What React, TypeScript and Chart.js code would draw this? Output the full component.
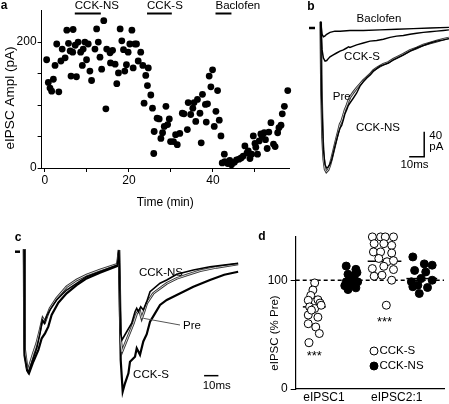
import { useEffect, useRef } from 'react';
import { Chart, registerables } from 'chart.js';

Chart.register(...registerables);

const FONT = '"Liberation Sans", Arial, Helvetica, sans-serif';

// ---------------- Panel a : eIPSC amplitude over time ----------------
const timeMin = [
  0.4, 0.8, 1.2, 1.6, 2.0, 2.4, 2.8, 3.3, 3.8, 4.1, 4.8, 5.2, 5.6, 6.0, 6.2, 6.7, 6.6, 7.5, 7.2, 7.9,
  8.5, 8.9, 9.1, 9.5, 9.9, 10.3, 10.7, 11.1, 11.9, 12.3, 12.7, 13.1, 13.5, 14.0, 14.5, 14.7, 15.5, 15.6, 16.1, 16.7,
  17.1, 17.5, 17.9, 18.3, 18.7, 19.0, 19.4, 19.8, 20.2, 20.7, 21.0, 21.4, 21.8, 22.2, 22.8, 23.3, 23.6, 24.0, 24.6, 24.4,
  25.2, 25.6, 26.0, 25.9, 26.7, 27.2, 27.6, 28.0, 28.4, 28.8, 29.2, 29.6, 29.9, 30.6, 31.1, 31.5, 32.1, 32.7, 33.1, 33.9,
  34.1, 34.7, 35.2, 35.5, 35.9, 36.3, 36.9, 37.2, 37.5, 38.2, 38.7, 38.4, 39.1, 39.5, 39.9, 40.3, 40.7, 41.1, 41.5, 41.9,
  42.2, 42.7, 42.8, 43.5, 44.0, 44.4, 45.1, 45.6, 46.2, 46.7, 47.2, 47.6, 48.1, 48.4, 48.8, 49.2, 49.6, 50.0, 50.2, 50.6,
  51.0, 51.4, 51.7, 52.2, 52.5, 52.9, 53.3, 53.8, 54.4, 54.8, 55.4, 55.7, 56.2, 56.5, 57.0, 57.8,
];
const amplPA = [
  172, 136, 127, 122, 141, 163, 197, 121, 170, 189, 175, 219, 198, 186, 146, 220, 184, 145, 195, 200,
  184, 163, 189, 200, 172, 197, 154, 139, 189, 221, 200, 176, 157, 234, 94, 189, 183, 167, 187, 165,
  134, 151, 221, 202, 188, 154, 164, 184, 197, 219, 159, 197, 197, 170, 184, 163, 103, 147, 159, 131,
  116, 95, 58, 23, 79, 78, 47, 56, 66, 98, 69, 78, 42, 42, 53, 37, 55, 87, 86, 61,
  104, 85, 95, 104, 74, 109, 87, 40, 117, 101, 102, 73, 146, 129, 156, 66, 90, 123, 76, 51,
  8, 22, 10, 7, 12, 5, 9, 13, 14, 16, 19, 35, 24, 27, 15, 22, 51, 39, 33, 22,
  43, 54, 50, 56, 45, 31, 57, 72, 38, 34, 56, 64, 68, 86, 98, 123,
];
const drugLabels = ['CCK-NS', 'CCK-S', 'Baclofen'];
const drugStartMin = [7.1, 24.3, 40.6];
const drugEndMin = [13.3, 30.2, 44.4];
const aXTicks = [0, 10, 20, 30, 40, 50];
const aXTickLabels = ['0', '', '20', '', '40', ''];
const aYTicks = [0, 50, 100, 150, 200];
const aYTickLabels = ['0', '', '', '', '200'];

// ---------------- Panel b : example traces (ms, pA) ----------------
const bArtifact = [[-7.8, 0], [-3.8, 0]];
const bPre = [
  [0, 10], [0.5, -100], [1.2, -175], [2, -210], [2.9, -226], [3.8, -230], [5, -227], [6.2, -219], [7.3, -209],
  [8.4, -198], [9.5, -187], [10.6, -176], [11.8, -165], [12.9, -154], [14, -149], [15.1, -140], [16.2, -131],
  [17.3, -125], [18.4, -117], [19.5, -111], [21.8, -103], [24, -96], [26.2, -90], [28.4, -84], [30.6, -79],
  [32.9, -74], [35.1, -68], [37.3, -64], [39.5, -61], [41.8, -58], [45.1, -55], [48.4, -50], [51.8, -46],
  [55.1, -42], [59.5, -36], [64, -32], [68.4, -27], [72.9, -24], [77.3, -21], [81.8, -18], [85.5, -16],
];
const bCckNs = [
  [0, 10], [0.6, -110], [1.8, -195], [2.9, -219], [4, -224], [5.1, -222], [6.2, -218], [7.3, -211], [8.4, -200],
  [9.5, -189], [10.6, -179], [11.8, -168], [12.9, -160], [14, -156], [15.1, -147], [16.2, -137], [17.3, -131],
  [18.4, -124], [19.5, -120], [21.8, -112], [24, -104], [26.2, -93], [28.4, -86], [30.6, -80], [32.9, -75],
  [35.1, -69], [37.3, -65], [39.5, -61], [41.8, -59], [45.1, -56], [48.4, -51], [51.8, -47], [55.1, -43],
  [59.5, -37], [64, -32], [68.4, -28], [72.9, -24], [77.3, -21], [81.8, -19], [85.5, -17],
];
const bCckS = [
  [0, 10], [0.9, -35], [1.8, -48], [2.9, -53], [4, -52], [5.1, -49], [6.2, -46], [8.4, -43], [10.6, -40],
  [12.9, -37], [15.1, -35], [17.3, -32], [18.5, -30], [19.5, -31], [21.8, -29], [24, -27], [28.4, -24],
  [32.9, -21], [37.3, -20], [41.8, -18], [46.2, -15], [50.6, -13], [55.1, -12], [59.5, -10], [64, -8.5],
  [68.4, -7], [72.9, -6], [77.3, -5], [81.8, -4], [85.5, -3],
];
const bBaclofen = [
  [0, 10], [0.9, -10], [1.8, -14], [2.7, -13], [4, -10], [6.2, -7], [9.5, -5], [12.9, -5], [19.5, -4],
  [28.4, -4], [39.5, -3], [50.6, -2], [61.7, -1], [72.9, 0], [85.5, 1],
];
const bScaleBar = [[59, -206], [69, -206], [69, -166]]; // 10 ms, 40 pA

// ---------------- Panel c : paired-pulse traces (ms, % of first peak) ----------------
const cArtifact = [[-6.3, 0], [-2.8, 0]];
const cPre = [
  [0, 2], [0.4, -80], [2.2, -96], [3, -97.5], [6.5, -83.8], [8.9, -75.5], [11.2, -64.6], [13.1, -54.9],
  [14.7, -57.7], [15.9, -53.6], [18.2, -46.7], [22.8, -38.4], [29.8, -28.8], [36.8, -23.3], [43.8, -19.2],
  [53.1, -15.1], [65.3, -10.4], [66.4, 1.4], [67.6, -72.8], [68.5, -82.4], [71.8, -72.8], [76.5, -59],
  [78.8, -50.8], [80.7, -48.1], [82.3, -54.9], [83.9, -49.5], [85.8, -42.6], [90.4, -34.3], [99.8, -26.1],
  [106.8, -22], [113.8, -19.2], [123.1, -15.7], [134.7, -12.9], [149.7, -10.1],
];
const cCckNs = [
  [0, 2], [0.4, -85], [2.2, -97], [3, -99.7], [6.5, -87.9], [8.9, -79.7], [11.2, -67.3], [12.8, -56.3],
  [14.2, -59], [15.9, -53], [18.2, -48], [22.8, -39.8], [29.8, -31.6], [36.8, -26.1], [43.8, -20.6],
  [53.1, -16.5], [65.3, -11], [66.4, 1.4], [67.6, -67.3], [68.5, -72.8], [71.8, -66], [75.3, -59],
  [77.6, -49.5], [78.8, -46.7], [80, -49.5], [81.6, -45.4], [83.4, -48.1], [85.8, -41.2], [88.1, -33],
  [95.1, -26], [99.8, -23.3], [106.8, -18.6], [118.4, -15.1], [130, -12.4], [149.7, -9.6],
];
const cCckS = [
  [0, 2], [0.4, -86], [2.2, -98], [3.5, -100.3], [6.5, -90.7], [10, -81.1], [12.4, -71.4], [14.7, -67.3],
  [17, -61.8], [19.3, -52.2], [24, -42], [29.8, -34.3], [36.8, -27.5], [43.8, -22], [53.1, -17.3],
  [65.3, -11.8], [66.4, 1.4], [67.6, -89.3], [69, -115.4], [70.6, -108.5], [73, -100.3], [74.1, -90.7],
  [77.6, -86.6], [78.8, -79.6], [81.1, -85], [83.4, -74], [85.8, -68], [88.1, -57.7], [91.6, -50.8],
  [95.1, -43.9], [99.8, -39.8], [106.8, -35.7], [118.4, -28.9], [130, -23.3], [140, -19], [149.7, -16.5],
];
const cScaleBar = [[125.9, -102.2], [135.9, -102.2]]; // 10 ms

// ---------------- Panel d : normalized eIPSC ----------------
const dCategories = ['eIPSC1', 'eIPSC2:1'];
const dCategoryPos = [1.27, 3.3];
const dGroupCenter = [1, 2.05, 2.96, 4];
const d1SValues = [97.5, 91, 86, 81.6, 82, 79, 75.5, 74, 77, 68, 66, 60, 57, 51, 42.5, 72.5];
const d1SOffsets = [0.01, -0.04, -0.1, -0.17, 0.1, 0.16, -0.13, 0.01, 0.19, -0.17, 0.1, -0.17, 0.04, 0.14, -0.15, -0.08];
const d1NsValues = [113, 110, 104.6, 105.5, 98.5, 95.4, 93, 91.4, 95, 98.5, 101.5, 107];
const d1NsOffsets = [-0.16, 0.11, 0.07, -0.11, -0.16, -0.02, 0.11, -0.11, -0.2, 0.16, 0, 0.14];
const d2SValues = [139.8, 139.8, 139.8, 139.8, 133.6, 133.6, 132, 126, 126, 125, 120, 117, 118, 110.7, 112.8, 109.8, 103.7, 104.6, 100, 77];
const d2SOffsets = [-0.34, -0.11, 0.02, 0.25, -0.29, -0.02, 0.2, -0.31, -0.11, 0.2, -0.16, 0.07, 0.25, -0.34, -0.02, 0.25, -0.29, -0.07, 0.2, 0.05];
const d2NsValues = [121.4, 115, 113.8, 109, 107.6, 101.5, 98.5, 100, 95.4, 93.3, 87.8, 94];
const d2NsOffsets = [-0.25, 0.07, 0.29, -0.2, 0.11, -0.02, -0.29, 0.29, -0.11, 0.16, -0.07, -0.25];
const dMeans = [75.5, 99.5, 117.5, 101.5];
const dMeanHalfWidth = [0.32, 0.25, 0.47, 0.43];
const dReference = 100;
const dYTicks = [0, 100];
const dSignificance = [{ label: '***', group: 0, value: 30 }, { label: '***', group: 2, value: 61 }];

// ---------------- helpers ----------------
type Pt = number[];
const toXY = (a: Pt[]) => a.map(([x, y]) => ({ x, y }));

function text(
  ctx: CanvasRenderingContext2D,
  s: string,
  x: number,
  y: number,
  o: { size?: number; bold?: boolean; align?: CanvasTextAlign; rotate?: number; color?: string } = {}
) {
  ctx.save();
  ctx.font = `${o.bold ? 'bold ' : ''}${o.size ?? 12}px ${FONT}`;
  ctx.fillStyle = o.color ?? '#000';
  ctx.textAlign = o.align ?? 'center';
  ctx.textBaseline = 'middle';
  ctx.translate(x, y);
  if (o.rotate) ctx.rotate(o.rotate);
  ctx.fillText(s, 0, 0);
  ctx.restore();
}

const lineDs = (data: Pt[], color: string, width: number, order: number) => ({
  data: toXY(data),
  showLine: true,
  borderColor: color,
  backgroundColor: color,
  borderWidth: width,
  pointRadius: 0,
  pointHoverRadius: 0,
  tension: 0,
  order,
  clip: false as const,
});

const base = {
  animation: false as const,
  responsive: false,
  devicePixelRatio: 1,
  events: [] as any[],
  plugins: { legend: { display: false }, tooltip: { enabled: false } },
};

function configA(): any {
  return {
    type: 'scatter',
    data: {
      datasets: [
        {
          data: timeMin.map((t, i) => ({ x: t, y: amplPA[i] })),
          pointRadius: 3.4,
          pointBackgroundColor: '#000',
          pointBorderColor: '#000',
          pointBorderWidth: 0,
          clip: false,
        },
      ],
    },
    options: {
      ...base,
      layout: { padding: { left: 0, right: 11, top: 10, bottom: 0 } },
      scales: {
        x: {
          type: 'linear',
          min: -0.8,
          max: 58.1,
          afterBuildTicks: (s: any) => { s.ticks = aXTicks.map((v) => ({ value: v })); },
          afterFit: (s: any) => { s.height = 47; },
          ticks: {
            autoSkip: false,
            maxRotation: 0,
            padding: 1,
            color: '#000',
            font: { family: FONT, size: 12 },
            callback: (v: number) => aXTickLabels[aXTicks.indexOf(v)] ?? '',
          },
          grid: { drawOnChartArea: false, drawTicks: true, tickLength: 4, color: '#000' },
          border: { display: true, color: '#000', width: 1 },
          title: { display: true, text: 'Time (min)', color: '#000', font: { family: FONT, size: 12 }, padding: { top: 0, bottom: 5 } },
        },
        y: {
          type: 'linear',
          min: 0,
          max: 251,
          afterBuildTicks: (s: any) => { s.ticks = aYTicks.map((v) => ({ value: v })); },
          afterFit: (s: any) => { s.width = 41.6; },
          ticks: {
            autoSkip: false,
            padding: 1,
            color: '#000',
            font: { family: FONT, size: 12 },
            callback: (v: number) => aYTickLabels[aYTicks.indexOf(v)] ?? '',
          },
          grid: { drawOnChartArea: false, drawTicks: true, tickLength: 4, color: '#000' },
          border: { display: true, color: '#000', width: 1 },
        },
      },
    },
    plugins: [
      {
        id: 'annotA',
        afterDraw(chart: any) {
          const ctx = chart.ctx as CanvasRenderingContext2D;
          const xs = chart.scales.x;
          drugLabels.forEach((lab, i) => {
            const x1 = xs.getPixelForValue(drugStartMin[i]);
            const x2 = xs.getPixelForValue(drugEndMin[i]);
            ctx.save();
            ctx.strokeStyle = '#000';
            ctx.lineWidth = 2;
            ctx.beginPath();
            ctx.moveTo(x1, 13.5);
            ctx.lineTo(x2, 13.5);
            ctx.stroke();
            ctx.restore();
            text(ctx, lab, x1, 6, { size: 11.5, align: 'left' });
          });
          text(ctx, 'a', 4, 6, { bold: true, size: 12 });
          text(ctx, 'eIPSC Ampl (pA)', 10, 98, { size: 13.5, rotate: -Math.PI / 2 });
        },
      },
    ],
  };
}

function configB(): any {
  return {
    type: 'scatter',
    data: {
      datasets: [
        lineDs(bCckNs, '#000', 1.4, 1),
        lineDs(bPre, '#c8c8c8', 1.0, 2),
        lineDs(bPre, '#333', 2.6, 3),
        lineDs(bCckS, '#000', 1.5, 0),
        lineDs(bBaclofen, '#000', 1.5, 0),
        lineDs(bArtifact, '#000', 2.5, 0),
        lineDs(bScaleBar, '#000', 1.5, 0),
      ],
    },
    options: {
      ...base,
      layout: { padding: 0 },
      scales: {
        x: { type: 'linear', display: false, min: -13.8, max: 85.53 },
        y: { type: 'linear', display: false, min: -243.2, max: 44.8 },
      },
    },
    plugins: [
      {
        id: 'annotB',
        afterDraw(chart: any) {
          const ctx = chart.ctx as CanvasRenderingContext2D;
          text(ctx, 'b', 11, 7, { bold: true });
          text(ctx, 'Baclofen', 79, 19, { size: 11.5 });
          text(ctx, 'CCK-S', 62, 57, { size: 11.5 });
          text(ctx, 'Pre', 41.7, 97, { size: 11.5 });
          text(ctx, 'CCK-NS', 78, 128, { size: 11.5 });
          text(ctx, '40', 129.3, 136, { size: 11.5, align: 'left' });
          text(ctx, 'pA', 129.3, 147, { size: 11.5, align: 'left' });
          text(ctx, '10ms', 114.5, 165, { size: 11.5 });
        },
      },
    ],
  };
}

function configC(): any {
  return {
    type: 'scatter',
    data: {
      datasets: [
        lineDs(cCckNs, '#000', 1.6, 1),
        lineDs(cPre, '#d0d0d0', 1.0, 2),
        lineDs(cPre, '#333', 2.6, 3),
        lineDs(cCckS, '#000', 2.2, 4),
        lineDs(cArtifact, '#000', 2.5, 0),
        lineDs(cScaleBar, '#000', 1.5, 0),
      ],
    },
    options: {
      ...base,
      layout: { padding: 0 },
      scales: {
        x: { type: 'linear', display: false, min: -16.78, max: 154.5 },
        y: { type: 'linear', display: false, min: -122.26, max: 30.26 },
      },
    },
    plugins: [
      {
        id: 'annotC',
        afterDraw(chart: any) {
          const ctx = chart.ctx as CanvasRenderingContext2D;
          text(ctx, 'c', 18, 22.5, { bold: true });
          text(ctx, 'CCK-NS', 161, 58, { size: 11.5 });
          text(ctx, 'Pre', 192, 110.5, { size: 11.5 });
          text(ctx, 'CCK-S', 151, 160, { size: 11.5 });
          text(ctx, '10ms', 216.7, 171, { size: 11.5 });
          ctx.save();
          ctx.strokeStyle = '#555';
          ctx.lineWidth = 1;
          ctx.beginPath();
          ctx.moveTo(143.3, 103.3);
          ctx.lineTo(180, 110);
          ctx.stroke();
          ctx.restore();
        },
      },
    ],
  };
}

function configD(): any {
  const group = (vals: number[], offs: number[], g: number) => vals.map((v, i) => ({ x: dGroupCenter[g] + offs[i], y: v }));
  const openStyle = { pointRadius: 4, pointBackgroundColor: '#fff', pointBorderColor: '#000', pointBorderWidth: 1, clip: false, order: 0 };
  const fillStyle = { pointRadius: 4, pointBackgroundColor: '#000', pointBorderColor: '#000', pointBorderWidth: 1, clip: false, order: 0 };
  const meanLines = dMeans.map((m, g) =>
    lineDs([[dGroupCenter[g] - dMeanHalfWidth[g], m], [dGroupCenter[g] + dMeanHalfWidth[g], m]], '#000', 1.5, 1)
  );
  const ref = { ...lineDs([[0.48, dReference], [4.62, dReference]], '#000', 1.4, 2), borderDash: [4, 3] };
  return {
    type: 'scatter',
    data: {
      datasets: [
        { data: group(d1SValues, d1SOffsets, 0), ...openStyle },
        { data: group(d1NsValues, d1NsOffsets, 1), ...fillStyle },
        { data: group(d2SValues, d2SOffsets, 2), ...openStyle },
        { data: group(d2NsValues, d2NsOffsets, 3), ...fillStyle },
        ...meanLines,
        ref,
      ],
    },
    options: {
      ...base,
      layout: { padding: { left: 0, right: 0, top: 21.7, bottom: 0 } },
      scales: {
        x: {
          type: 'linear',
          min: 0.48,
          max: 4.62,
          afterBuildTicks: (s: any) => { s.ticks = dCategoryPos.map((v) => ({ value: v })); },
          afterFit: (s: any) => { s.height = 15; },
          ticks: {
            autoSkip: false,
            maxRotation: 0,
            padding: 1,
            color: '#000',
            font: { family: FONT, size: 12 },
            callback: (v: number) => dCategories[dCategoryPos.indexOf(v)] ?? '',
          },
          grid: { drawOnChartArea: false, drawTicks: false, color: '#000' },
          border: { display: true, color: '#000', width: 1.2 },
        },
        y: {
          type: 'linear',
          min: 0,
          max: 140,
          afterBuildTicks: (s: any) => { s.ticks = dYTicks.map((v) => ({ value: v })); },
          afterFit: (s: any) => { s.width = 55.7; },
          ticks: { autoSkip: false, padding: 3, color: '#000', font: { family: FONT, size: 12 } },
          grid: { drawOnChartArea: false, drawTicks: true, tickLength: 5, color: '#000' },
          border: { display: true, color: '#000', width: 1.2 },
        },
      },
    },
    plugins: [
      {
        id: 'annotD',
        afterDraw(chart: any) {
          const ctx = chart.ctx as CanvasRenderingContext2D;
          const xs = chart.scales.x;
          const ys = chart.scales.y;
          text(ctx, 'd', 22, 22, { bold: true });
          text(ctx, 'eIPSC (% Pre)', 35, 118, { size: 11.5, rotate: -Math.PI / 2 });
          dSignificance.forEach((s) => {
            text(ctx, s.label, xs.getPixelForValue(dGroupCenter[s.group]), ys.getPixelForValue(s.value), { size: 13 });
          });
          // legend
          const items = [
            { label: 'CCK-S', fill: '#fff', y: 136 },
            { label: 'CCK-NS', fill: '#000', y: 151 },
          ];
          items.forEach((it) => {
            ctx.save();
            ctx.beginPath();
            ctx.arc(134, it.y, 4, 0, Math.PI * 2);
            ctx.fillStyle = it.fill;
            ctx.fill();
            ctx.strokeStyle = '#000';
            ctx.lineWidth = 1;
            ctx.stroke();
            ctx.restore();
            text(ctx, it.label, 139.5, it.y, { size: 11.5, align: 'left' });
          });
        },
      },
    ],
  };
}

export default function App() {
  const aRef = useRef<HTMLCanvasElement>(null);
  const bRef = useRef<HTMLCanvasElement>(null);
  const cRef = useRef<HTMLCanvasElement>(null);
  const dRef = useRef<HTMLCanvasElement>(null);

  useEffect(() => {
    Chart.defaults.font.family = FONT;
    Chart.defaults.color = '#000';
    const charts = [
      new Chart(aRef.current!, configA()),
      new Chart(bRef.current!, configB()),
      new Chart(cRef.current!, configC()),
      new Chart(dRef.current!, configD()),
    ];
    return () => charts.forEach((c) => c.destroy());
  }, []);

  const abs = (left: number, top: number, w: number, h: number) => ({
    position: 'absolute' as const,
    left,
    top,
    width: w,
    height: h,
  });

  return (
    <div style={{ position: 'absolute', left: 0, top: 0, width: 449, height: 404, background: '#fff', overflow: 'hidden' }}>
      <canvas ref={aRef} width={300} height={215} style={abs(0, 0, 300, 215)} />
      <canvas ref={bRef} width={149} height={180} style={abs(300, 0, 149, 180)} />
      <canvas ref={cRef} width={245} height={185} style={abs(0, 215, 245, 185)} />
      <canvas ref={dRef} width={209} height={189} style={abs(240, 215, 209, 189)} />
    </div>
  );
}
